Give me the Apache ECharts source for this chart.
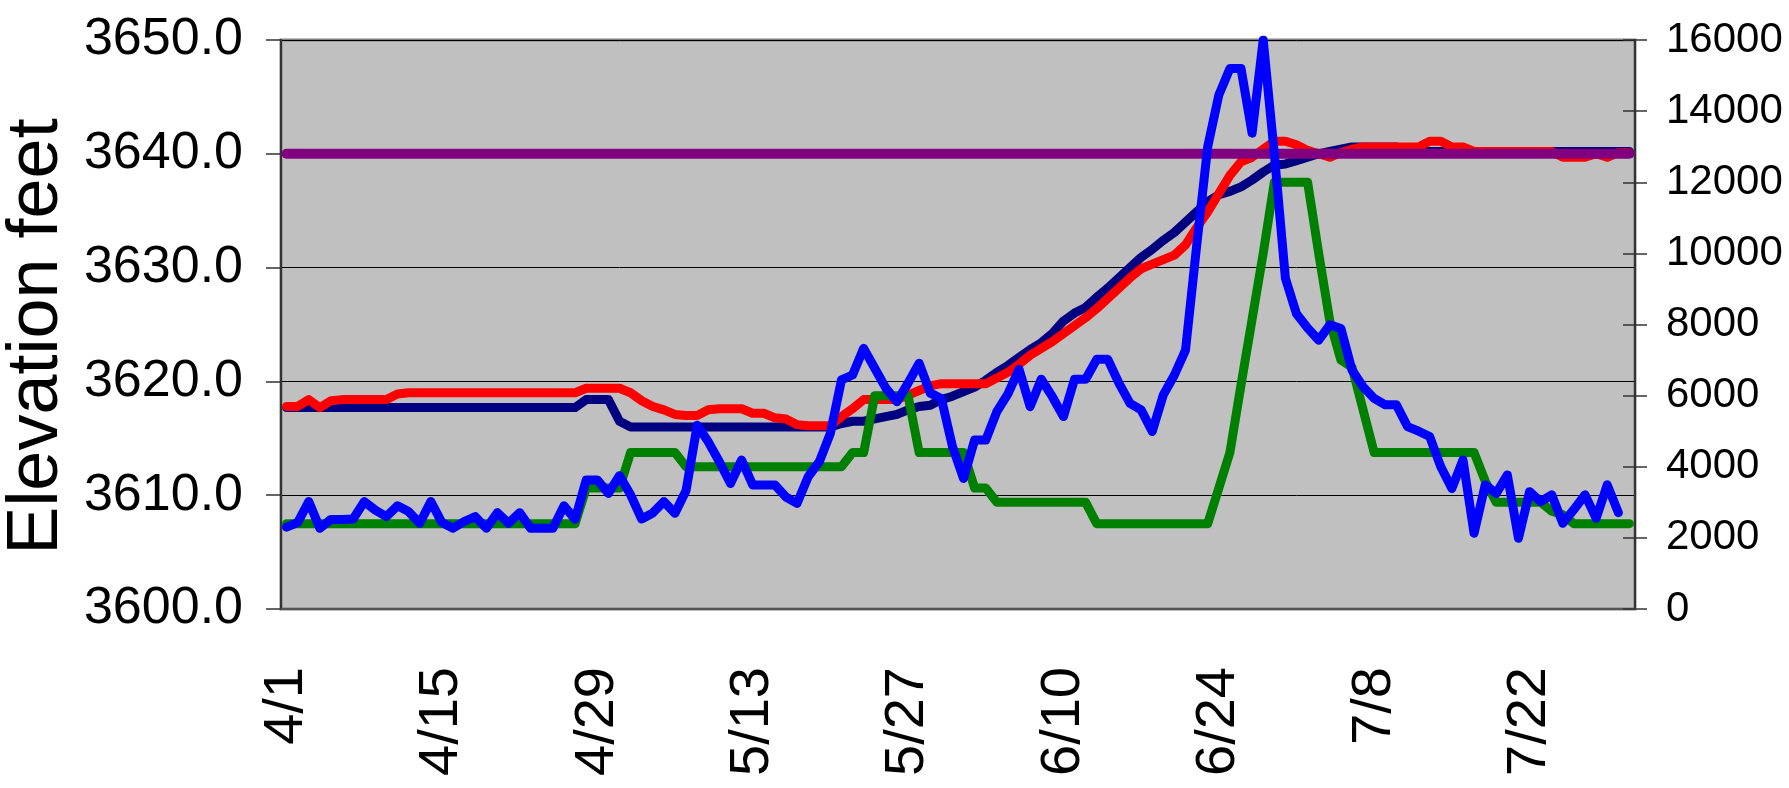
<!DOCTYPE html>
<html>
<head>
<meta charset="utf-8">
<title>Elevation and flows</title>
<script src="https://cdn.jsdelivr.net/npm/echarts/dist/echarts.min.js"></script>
<style>
    html, body { margin: 0; padding: 0; background: #fff; }
    #main { width: 1789px; height: 788px; }
</style>
</head>
<body>
<div id="main"></div>
<script>
// daily categories 4/1 .. 7/31
var months = [4, 5, 6, 7];
var monthDays = [30, 31, 30, 31];
var days = [];
for (var m = 0; m < months.length; m++) {
    for (var d = 1; d <= monthDays[m]; d++) {
        days.push(months[m] + '/' + d);
    }
}

// left axis ticks (feet) and right axis ticks (cfs)
var elevTicks = [3600, 3650, 10];
var flowTicks = [0, 16000, 2000];

// elevation, dark blue line
var elevNavy = [
    3617.7, 3617.7, 3617.7, 3617.7, 3617.7, 3617.7, 3617.7, 3617.7, 3617.7, 3617.7,
    3617.7, 3617.7, 3617.7, 3617.7, 3617.7, 3617.7, 3617.7, 3617.7, 3617.7, 3617.7,
    3617.7, 3617.7, 3617.7, 3617.7, 3617.7, 3617.7, 3617.7, 3618.4, 3618.4, 3618.4,
    3616.5, 3616.0, 3616.0, 3616.0, 3616.0, 3616.0, 3616.0, 3616.0, 3616.0, 3616.0,
    3616.0, 3616.0, 3616.0, 3616.0, 3616.0, 3616.0, 3616.0, 3616.0, 3616.0, 3616.0,
    3616.3, 3616.5, 3616.5, 3616.7, 3616.9, 3617.1, 3617.5, 3617.8, 3617.9, 3618.4,
    3618.7, 3619.1, 3619.5, 3620.1, 3620.8, 3621.4, 3622.1, 3622.8, 3623.4, 3624.2,
    3625.3, 3626.0, 3626.5, 3627.4, 3628.2, 3629.1, 3630.0, 3630.9, 3631.6, 3632.4,
    3633.1, 3634.0, 3634.9, 3635.8, 3636.4, 3636.7, 3637.1, 3637.7, 3638.4, 3639.0,
    3639.1, 3639.4, 3639.7, 3640.0, 3640.2, 3640.4, 3640.6, 3640.6, 3640.6, 3640.6,
    3640.6, 3640.2, 3640.2, 3640.2, 3640.2, 3640.2, 3640.2, 3640.2, 3640.2, 3640.2,
    3640.2, 3640.2, 3640.2, 3640.2, 3640.2, 3640.2, 3640.2, 3640.2, 3640.2, 3640.2,
    3640.2, 3640.2
];

// elevation, red line
var elevRed = [
    3617.8, 3617.8, 3618.4, 3617.7, 3618.3, 3618.4, 3618.4, 3618.4, 3618.4, 3618.4,
    3618.9, 3619.0, 3619.0, 3619.0, 3619.0, 3619.0, 3619.0, 3619.0, 3619.0, 3619.0,
    3619.0, 3619.0, 3619.0, 3619.0, 3619.0, 3619.0, 3619.0, 3619.4, 3619.4, 3619.4,
    3619.4, 3619.0, 3618.3, 3617.8, 3617.5, 3617.1, 3617.0, 3617.0, 3617.5, 3617.6,
    3617.6, 3617.6, 3617.2, 3617.2, 3616.8, 3616.7, 3616.2, 3616.1, 3616.1, 3616.1,
    3616.9, 3617.6, 3618.4, 3618.4, 3618.4, 3618.4, 3618.8, 3619.2, 3619.6, 3619.8,
    3619.8, 3619.8, 3619.8, 3619.8, 3620.3, 3620.8, 3621.5, 3622.3, 3622.9, 3623.5,
    3624.2, 3624.9, 3625.6, 3626.4, 3627.3, 3628.2, 3629.1, 3629.9, 3630.3, 3630.7,
    3631.1, 3632.0, 3633.5, 3634.9, 3636.5, 3638.1, 3639.3, 3639.7, 3640.4, 3641.1,
    3641.1, 3640.8, 3640.3, 3640.0, 3639.7, 3640.1, 3640.4, 3640.6, 3640.6, 3640.6,
    3640.6, 3640.6, 3640.6, 3641.1, 3641.1, 3640.6, 3640.6, 3640.2, 3640.2, 3640.2,
    3640.2, 3640.2, 3640.2, 3640.2, 3640.2, 3639.7, 3639.7, 3639.7, 3640.0, 3639.7,
    3640.1, 3640.1
];

// full pool line
var fullPool = [
    3640, 3640, 3640, 3640, 3640, 3640, 3640, 3640, 3640, 3640,
    3640, 3640, 3640, 3640, 3640, 3640, 3640, 3640, 3640, 3640,
    3640, 3640, 3640, 3640, 3640, 3640, 3640, 3640, 3640, 3640,
    3640, 3640, 3640, 3640, 3640, 3640, 3640, 3640, 3640, 3640,
    3640, 3640, 3640, 3640, 3640, 3640, 3640, 3640, 3640, 3640,
    3640, 3640, 3640, 3640, 3640, 3640, 3640, 3640, 3640, 3640,
    3640, 3640, 3640, 3640, 3640, 3640, 3640, 3640, 3640, 3640,
    3640, 3640, 3640, 3640, 3640, 3640, 3640, 3640, 3640, 3640,
    3640, 3640, 3640, 3640, 3640, 3640, 3640, 3640, 3640, 3640,
    3640, 3640, 3640, 3640, 3640, 3640, 3640, 3640, 3640, 3640,
    3640, 3640, 3640, 3640, 3640, 3640, 3640, 3640, 3640, 3640,
    3640, 3640, 3640, 3640, 3640, 3640, 3640, 3640, 3640, 3640,
    3640, 3640
];

// outflow (cfs), green line
var outflow = [
    2400, 2400, 2400, 2400, 2400, 2400, 2400, 2400, 2400, 2400,
    2400, 2400, 2400, 2400, 2400, 2400, 2400, 2400, 2400, 2400,
    2400, 2400, 2400, 2400, 2400, 2400, 2400, 3400, 3400, 3400,
    3400, 4400, 4400, 4400, 4400, 4400, 4000, 4000, 4000, 4000,
    4000, 4000, 4000, 4000, 4000, 4000, 4000, 4000, 4000, 4000,
    4000, 4400, 4400, 6000, 6000, 6000, 6000, 4400, 4400, 4400,
    4400, 4400, 3400, 3400, 3000, 3000, 3000, 3000, 3000, 3000,
    3000, 3000, 3000, 2400, 2400, 2400, 2400, 2400, 2400, 2400,
    2400, 2400, 2400, 2400, 3400, 4400, 6300, 8150, 10000, 12000,
    12000, 12000, 12000, 10000, 8100, 7000, 6800, 5600, 4400, 4400,
    4400, 4400, 4400, 4400, 4400, 4400, 4400, 4400, 3600, 3000,
    3000, 3000, 3000, 3000, 2750, 2650, 2400, 2400, 2400, 2400,
    2400, 2400
];

// inflow (cfs), blue line
var inflow = [
    2300, 2430, 3020, 2270, 2520, 2520, 2530, 3020, 2780, 2600,
    2900, 2740, 2410, 3020, 2430, 2270, 2460, 2600, 2270, 2710,
    2410, 2710, 2270, 2270, 2270, 2900, 2520, 3630, 3630, 3250,
    3750, 3210, 2530, 2700, 3020, 2690, 3330, 5170, 4700, 4140,
    3530, 4190, 3490, 3490, 3490, 3150, 2970, 3720, 4140, 4940,
    6440, 6580, 7330, 6770, 6210, 5830, 6350, 6910, 6070, 5920,
    4570, 3670, 4750, 4750, 5550, 6050, 6740, 5690, 6460, 5970,
    5410, 6460, 6460, 7020, 7020, 6350, 5780, 5600, 4990, 6020,
    6580, 7280, 10200, 13000, 14450, 15200, 15200, 13380, 16000, 12800,
    9300, 8300, 7900, 7560, 7990, 7890, 6720, 6250, 5920, 5740,
    5740, 5130, 5000, 4850, 4000, 3390, 4190, 2130, 3490, 3250,
    3770, 1990, 3300, 3020, 3210, 2410, 2800, 3210, 2550, 3490,
    2710
];

var font = "'Liberation Sans', Arial, sans-serif";

var myChart = echarts.init(document.getElementById('main'));

function lineSeries(name, data, color, width, axis) {
    return {
        name: name,
        type: 'line',
        yAxisIndex: axis,
        data: data,
        symbol: 'none',
        lineStyle: {
            color: color,
            width: width,
            cap: 'round',
            join: 'round'
        }
    };
}

var option = {
    animation: false,
    backgroundColor: '#fff',
    grid: {
        left: 281,
        right: 154,
        top: 40,
        bottom: 179,
        outerBoundsMode: 'none',
        show: true,
        backgroundColor: '#C0C0C0',
        borderColor: '#808080',
        borderWidth: 3
    },
    xAxis: {
        type: 'category',
        data: days,
        boundaryGap: true,
        axisLine: {lineStyle: {color: '#555', width: 2}},
        axisTick: {interval: 13, length: 15, lineStyle: {color: '#444', width: 1.5}},
        axisLabel: {
            interval: 13,
            rotate: 90,
            margin: 58,
            fontSize: 56,
            color: '#000',
            fontFamily: font
        },
        splitLine: {show: false}
    },
    yAxis: [
        {
            type: 'value',
            position: 'left',
            min: elevTicks[0],
            max: elevTicks[1],
            interval: elevTicks[2],
            name: 'Elevation feet',
            nameLocation: 'middle',
            nameRotate: 90,
            nameGap: 200,
            nameTextStyle: {fontSize: 72, color: '#000', fontFamily: font, padding: [0, 24, 0, 0]},
            axisLine: {show: true, lineStyle: {color: '#333', width: 2}},
            axisTick: {show: true, length: 15, lineStyle: {color: '#333', width: 1.5}},
            axisLabel: {
                margin: 38,
                fontSize: 52,
                color: '#000',
                fontFamily: font,
                formatter: function (v) { return v.toFixed(1); }
            },
            splitLine: {show: true, lineStyle: {color: '#000', width: 1}}
        },
        {
            type: 'value',
            position: 'right',
            min: flowTicks[0],
            max: flowTicks[1],
            interval: flowTicks[2],
            axisLine: {show: true, lineStyle: {color: '#333', width: 2}},
            axisTick: {show: true, length: 12, lineStyle: {color: '#333', width: 1.5}},
            axisLabel: {
                margin: 31,
                fontSize: 42,
                color: '#000',
                fontFamily: font,
                formatter: function (v) { return String(v); }
            },
            splitLine: {show: false}
        },
        {
            // inner half of the crossing ticks on the right axis
            type: 'value',
            position: 'right',
            min: flowTicks[0],
            max: flowTicks[1],
            interval: flowTicks[2],
            axisLine: {show: false},
            axisTick: {show: true, inside: true, length: 12, lineStyle: {color: '#333', width: 1.5}},
            axisLabel: {show: false},
            splitLine: {show: false}
        }
    ],
    series: [
        lineSeries('Elevation A', elevNavy, '#000080', 9, 0),
        lineSeries('Elevation B', elevRed, '#FF0000', 9, 0),
        lineSeries('Outflow', outflow, '#008000', 9, 1),
        lineSeries('Full pool', fullPool, '#800080', 10, 0),
        lineSeries('Inflow', inflow, '#0000FF', 9, 1)
    ]
};

myChart.setOption(option);
window.onresize = myChart.resize;
</script>
</body>
</html>
